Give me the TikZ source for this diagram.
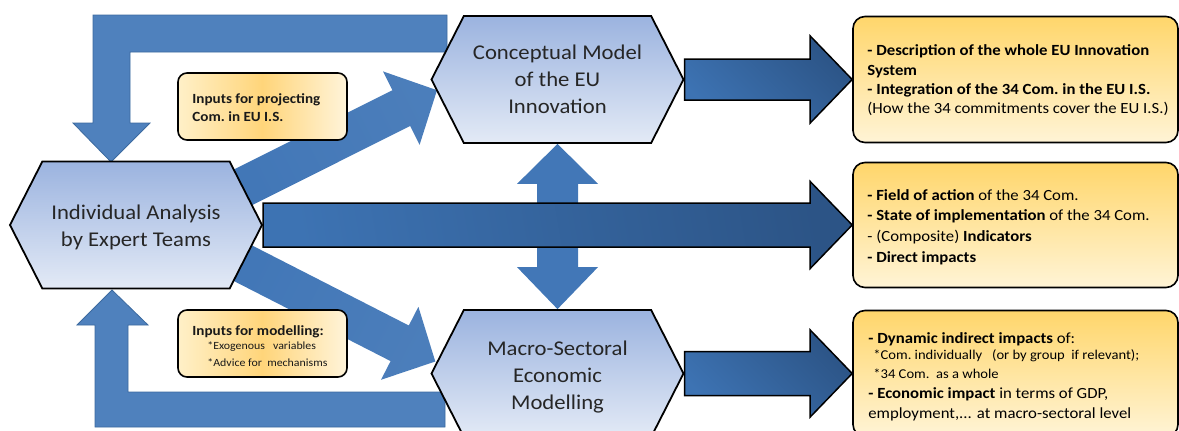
\documentclass[tikz,border=0pt]{standalone}
\usepackage{fontspec}
\setmainfont[FakeStretch=1.08]{Carlito}
\usetikzlibrary{shapes.symbols,calc}
\definecolor{ublue}{HTML}{4F81BD}
\definecolor{ubluedk}{HTML}{3C6A9F}
\definecolor{hextop}{HTML}{9BB3DF}
\definecolor{hexbot}{HTML}{E3EAF6}
\definecolor{arrL}{HTML}{3D73B3}
\definecolor{arrD}{HTML}{2C5486}
\definecolor{diagL}{HTML}{4277B7}
\definecolor{diagD}{HTML}{2D5485}
\definecolor{boxtop}{HTML}{FFD66B}
\definecolor{boxbot}{HTML}{FFF4D6}
\definecolor{callL}{HTML}{FFF0C8}
\definecolor{callM}{HTML}{FFD57A}
\definecolor{callR}{HTML}{FFF4DA}
\definecolor{hextext}{HTML}{262626}
\pgfdeclarelayer{bg}
\pgfsetlayers{bg,main}
\begin{document}
\begin{tikzpicture}[x=1pt,y=-1pt,
  hexa/.style={shape=signal, signal to=east and west, signal pointer angle=126,
    draw=black, line width=1.8pt, top color=hextop, bottom color=hexbot,
    minimum width=252pt, minimum height=127pt, inner sep=0pt},
  hexlabel/.style={align=center, inner sep=0pt, text=hextext, font=\fontsize{21}{27}\selectfont},
  ushape/.style={fill=ublue, draw=ubluedk, line width=0.8pt},
  bigarrow/.style={draw=black, line width=1.5pt, top color=arrD, bottom color=arrL, shading angle=-45},
  longarrow/.style={draw=black, line width=1.5pt, top color=arrL, bottom color=arrD, shading angle=100},
  diagup/.style={top color=diagL, middle color=diagD, bottom color=diagL!95!white, shading angle=116.6},
  diagdown/.style={top color=diagL, middle color=diagD, bottom color=diagL!95!white, shading angle=63},
  dblarrow/.style={top color=diagL, middle color=diagD, bottom color=diagL},
  outbox/.style={draw=black, line width=1.6pt, rounded corners=12pt, top color=boxtop,
    bottom color=boxbot, minimum width=325pt, inner sep=0pt},
  callout/.style={draw=black, line width=1.6pt, rounded corners=9pt, left color=callL,
    right color=callR, middle color=callM, minimum width=169pt, minimum height=67pt, inner sep=0pt},
  boxtext/.style={anchor=west, align=left, inner sep=0pt, text=black},
  calltext/.style={anchor=west, align=left, inner sep=0pt, text=black!90},
]
\useasboundingbox (0,0) rectangle (1179,431);

% hexagons
\node[hexa] (ind) at (136,225) {};
\node[hexlabel] (indt) at ([yshift=-2.5pt]ind.center) {Individual Analysis\\by Expert Teams};
\node[hexa] (con) at (557.5,79.5) {};
\node[hexlabel] (cont) at (con.center) {Conceptual Model\\of the EU\\Innovation};
\node[hexa] (mac) at (557.5,373.5) {};
\node[hexlabel] (mact) at ([yshift=-4pt]mac.center) {Macro-Sectoral\\Economic\\Modelling};

% output boxes
\node[outbox, minimum height=126pt] (b1) at (1015.5,79.5) {};
\node[outbox, minimum height=125pt] (b2) at (1015.5,225) {};
\node[outbox, minimum height=126pt] (b3) at (1015.5,373.5) {};

\node[boxtext, font=\fontsize{15.5}{19.3}\selectfont] (t1) at ([xshift=15pt,yshift=-1pt]b1.west)
  {\textbf{- Description of the whole EU Innovation}\\
   \textbf{System}\\
   \textbf{- Integration of the 34 Com.\ in the EU I.S.}\\
   (How the 34 commitments cover the EU I.S.)};
\node[boxtext, font=\fontsize{15.5}{20.7}\selectfont] (t2) at ([xshift=15pt,yshift=-2pt]b2.west)
  {\textbf{- Field of action} of the 34 Com.\\
   \textbf{- State of implementation} of the 34 Com.\\
   - (Composite) \textbf{Indicators}\\
   \textbf{- Direct impacts}};
\node[boxtext, font=\fontsize{15.5}{19.5}\selectfont] (t3) at ([xshift=16pt,yshift=-3pt]b3.west)
  {\textbf{- Dynamic indirect impacts} of:\\[-3pt]
   {\fontsize{13.5}{15}\selectfont\hspace{5pt}*Com.\ individually\ \ \ (or by group\ \ if relevant);}\\[-1pt]
   {\fontsize{13.5}{15}\selectfont\hspace{5pt}*34 Com.\ \ as a whole}\\[1pt]
   \textbf{- Economic impact} in terms of GDP,\\
   employment,... at macro-sectoral level};

% callouts
\node[callout] (c1) at (262.5,106.5) {};
\node[calltext, font=\fontsize{14}{18}\selectfont\bfseries] (ct1) at ([xshift=15pt,yshift=-1pt]c1.west)
  {Inputs\ for\ projecting\\Com.\ in\ EU I.S.};
\node[callout] (c2) at (262.5,343.5) {};
\node[calltext, font=\fontsize{14}{16.5}\selectfont] (ct2) at ([xshift=15pt,yshift=-2.5pt]c2.west)
  {\textbf{Inputs\ for\ modelling:}\\[-2pt]
   {\fontsize{11}{12}\selectfont\hspace{15pt}*Exogenous\ \ \ variables}\\
   {\fontsize{11}{12}\selectfont\hspace{15pt}*Advice for\ \ mechanisms}};

\begin{pgfonlayer}{bg}
  % feedback U-arrows
  \path[ushape] (447,15) -- (93,15) -- (93,123) -- (73,123) -- (111,162) -- (150,123)
    -- (130,123) -- (130,52) -- (447,52) -- cycle;
  \path[ushape] (445,427) -- (95,427) -- (95,325) -- (77,325) -- (112,290) -- (148,325)
    -- (128,325) -- (128,392) -- (445,392) -- cycle;
  % diagonal arrows
  \path[diagup] (229.6,171.6) -- (392.4,90.2) -- (383,71.4) -- (437,90.2)
    -- (419.6,144.8) -- (410.2,126) -- (247.5,207.4) -- cycle;
  \path[diagdown] (247.7,243.2) -- (408.8,325.5) -- (418.4,306.8) -- (435.3,361.5)
    -- (381,379.8) -- (390.6,361.1) -- (229.5,278.8) -- cycle;
  % double vertical arrow
  \path[dblarrow] (con.south) -- ++(40.5,40) -- ++(-20,0) -- ($(mac.north)+(20.5,-42)$)
    -- ++(20,0) -- (mac.north) -- ++(-40.5,-42) -- ++(20,0)
    -- ($(con.south)+(-20.5,40)$) -- ++(-20,0) -- cycle;
  % long middle arrow
  \path[longarrow] ($(ind.east)+(0,-22)$) -- ($(b2.west)+(-42,-22)$) -- ($(b2.west)+(-42,-43.5)$)
    -- (b2.west) -- ($(b2.west)+(-42,43.5)$) -- ($(b2.west)+(-42,22)$)
    -- ($(ind.east)+(0,22)$) -- cycle;
\end{pgfonlayer}

% output arrows
\path[bigarrow] ($(con.east)+(0,-20.5)$) -- ($(b1.west)+(-42,-20.5)$) -- ($(b1.west)+(-42,-43.5)$)
  -- (b1.west) -- ($(b1.west)+(-42,43.5)$) -- ($(b1.west)+(-42,20.5)$)
  -- ($(con.east)+(0,20.5)$) -- cycle;
\path[bigarrow] ($(mac.east)+(0,-22)$) -- ($(b3.west)+(-42,-22)$) -- ($(b3.west)+(-42,-43.5)$)
  -- (b3.west) -- ($(b3.west)+(-42,43.5)$) -- ($(b3.west)+(-42,22)$)
  -- ($(mac.east)+(0,22)$) -- cycle;
\end{tikzpicture}
\end{document}
